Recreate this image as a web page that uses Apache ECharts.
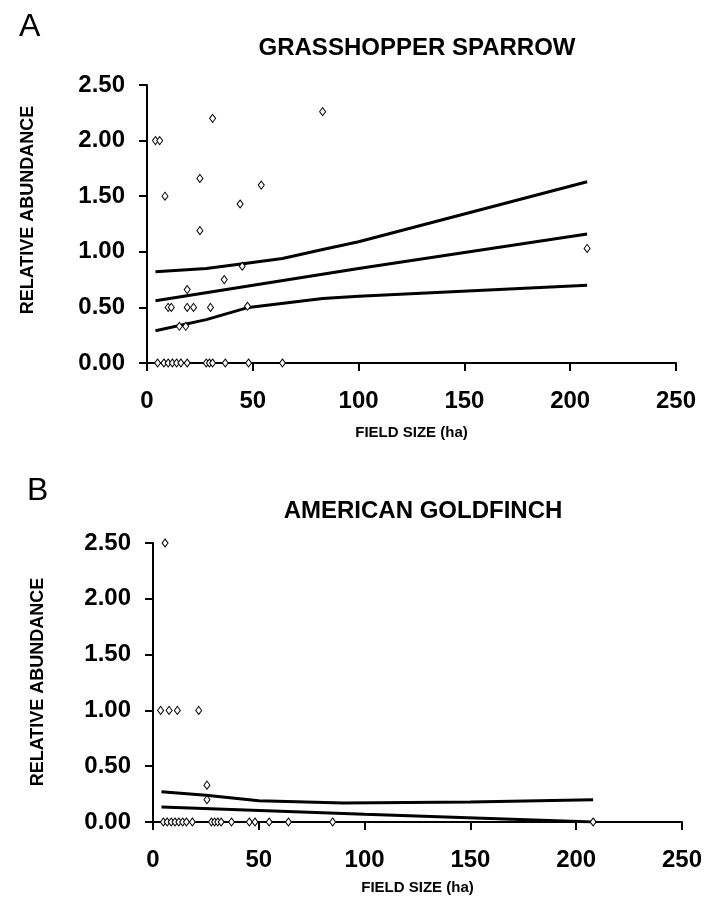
<!DOCTYPE html>
<html>
<head>
<meta charset="utf-8">
<script src="https://cdn.jsdelivr.net/npm/echarts@6/dist/echarts.min.js"></script>
<style>
  html, body { margin: 0; padding: 0; background: #fff; }
  #chart { width: 717px; height: 901px; }
</style>
</head>
<body>
<div id="chart"></div>
<script>
// tick labels
const fieldTicks = [0, 50, 100, 150, 200, 250]
const abundTicks = [0, 0.5, 1, 1.5, 2, 2.5]

// A: grasshopper sparrow, field size (ha) vs relative abundance
const sparrowX = [4, 6, 31, 83, 25, 54, 8.5, 44, 25, 45, 36.5, 19, 10, 11.5, 19, 22, 30, 47.5, 15.3, 18.3, 208,
  5, 8, 10, 12, 14, 16, 19, 28, 29.5, 31, 37, 48, 64]
const sparrowY = [2.0, 2.0, 2.2, 2.26, 1.66, 1.6, 1.5, 1.43, 1.19, 0.87, 0.75, 0.66, 0.5, 0.5, 0.5, 0.5, 0.5, 0.51, 0.33, 0.33, 1.03,
  0, 0, 0, 0, 0, 0, 0, 0, 0, 0, 0, 0, 0]
const sparrowFitX = [4, 100, 208]
const sparrowFitY = [0.56, 0.85, 1.16]
const sparrowUpX = [4, 28, 48, 64, 83, 100, 208]
const sparrowUpY = [0.82, 0.85, 0.9, 0.94, 1.02, 1.09, 1.63]
const sparrowLoX = [4, 28, 48, 83, 100, 208]
const sparrowLoY = [0.29, 0.39, 0.5, 0.58, 0.6, 0.7]

// B: american goldfinch
const goldfinchX = [5.7, 3.6, 7.6, 11.5, 21.6, 25.5, 25.5,
  4.9, 6.7, 8.6, 10.4, 12.2, 14, 15.8, 18.6, 27.6, 29.1, 30.6, 32.2, 37.1, 45.5, 48.2, 54.9, 64, 84.9, 208]
const goldfinchY = [2.5, 1, 1, 1, 1, 0.33, 0.2,
  0, 0, 0, 0, 0, 0, 0, 0, 0, 0, 0, 0, 0, 0, 0, 0, 0, 0, 0]
const goldfinchFitX = [4, 100, 208]
const goldfinchFitY = [0.135, 0.07, 0]
const goldfinchUpX = [4, 25, 50, 90, 150, 208]
const goldfinchUpY = [0.27, 0.24, 0.19, 0.17, 0.18, 0.2]

const pairs = (xs, ys) => xs.map((x, i) => [x, ys[i]])

const font = 'Liberation Sans, Arial, sans-serif'

function xAxisFor(gridIndex, gap) {
  return {
    gridIndex,
    type: 'value',
    min: fieldTicks[0],
    max: fieldTicks[fieldTicks.length - 1],
    interval: 50,
    name: 'FIELD SIZE (ha)',
    nameLocation: 'middle',
    nameGap: gap,
    nameTextStyle: { color: '#000', fontFamily: font, fontWeight: 'bold', fontSize: 15 },
    splitLine: { show: false },
    axisLine: { onZero: false, lineStyle: { color: '#000', width: 2 } },
    axisTick: { length: 8, lineStyle: { color: '#000', width: 2 } },
    axisLabel: { color: '#000', fontFamily: font, fontWeight: 'bold', fontSize: 24, margin: 26 }
  }
}

function yAxisFor(gridIndex) {
  return {
    gridIndex,
    type: 'value',
    min: abundTicks[0],
    max: abundTicks[abundTicks.length - 1],
    interval: 0.5,
    splitLine: { show: false },
    axisLine: { onZero: false, lineStyle: { color: '#000', width: 2 } },
    axisTick: { length: 8, lineStyle: { color: '#000', width: 2 } },
    axisLabel: {
      color: '#000', fontFamily: font, fontWeight: 'bold', fontSize: 24, margin: 22,
      formatter: v => v.toFixed(2)
    }
  }
}

const lineSeries = (idx, xs, ys) => ({
  type: 'line',
  xAxisIndex: idx,
  yAxisIndex: idx,
  data: pairs(xs, ys),
  showSymbol: false,
  symbol: 'none',
  lineStyle: { color: '#000', width: 3 },
  z: 3,
  silent: true
})

const dotSeries = (idx, xs, ys) => ({
  type: 'scatter',
  xAxisIndex: idx,
  yAxisIndex: idx,
  data: pairs(xs, ys),
  symbol: 'diamond',
  symbolSize: [6, 8],
  itemStyle: { color: '#fff', borderColor: '#000', borderWidth: 1, opacity: 1 },
  z: 4
})

// rotated y axis caption, placed by hand like the figure
const yCaption = (x, y) => ({
  type: 'text',
  x, y,
  rotation: Math.PI / 2,
  style: {
    text: 'RELATIVE ABUNDANCE',
    fill: '#000',
    font: 'bold 18px ' + font,
    align: 'center',
    verticalAlign: 'middle'
  }
})

const chart = echarts.init(document.getElementById('chart'), null, { renderer: 'canvas' })

chart.setOption({
  backgroundColor: '#fff',
  animation: false,
  title: [
    { text: 'A', left: 14, top: 6, textStyle: { fontFamily: font, fontWeight: 'normal', fontSize: 32, color: '#000' } },
    { text: 'GRASSHOPPER SPARROW', left: 412, top: 31, textAlign: 'center',
      textStyle: { fontFamily: font, fontWeight: 'bold', fontSize: 24, color: '#000' } },
    { text: 'B', left: 22, top: 470, textStyle: { fontFamily: font, fontWeight: 'normal', fontSize: 32, color: '#000' } },
    { text: 'AMERICAN GOLDFINCH', left: 418, top: 494, textAlign: 'center',
      textStyle: { fontFamily: font, fontWeight: 'bold', fontSize: 24, color: '#000' } }
  ],
  graphic: [yCaption(28, 210), yCaption(38, 682)],
  grid: [
    { left: 147, top: 85, width: 529, height: 278 },
    { left: 153, top: 543, width: 529, height: 279 }
  ],
  xAxis: [xAxisFor(0, 62), xAxisFor(1, 58)],
  yAxis: [yAxisFor(0), yAxisFor(1)],
  series: [
    dotSeries(0, sparrowX, sparrowY),
    lineSeries(0, sparrowFitX, sparrowFitY),
    lineSeries(0, sparrowUpX, sparrowUpY),
    lineSeries(0, sparrowLoX, sparrowLoY),
    dotSeries(1, goldfinchX, goldfinchY),
    lineSeries(1, goldfinchFitX, goldfinchFitY),
    lineSeries(1, goldfinchUpX, goldfinchUpY)
  ]
})
</script>
</body>
</html>
